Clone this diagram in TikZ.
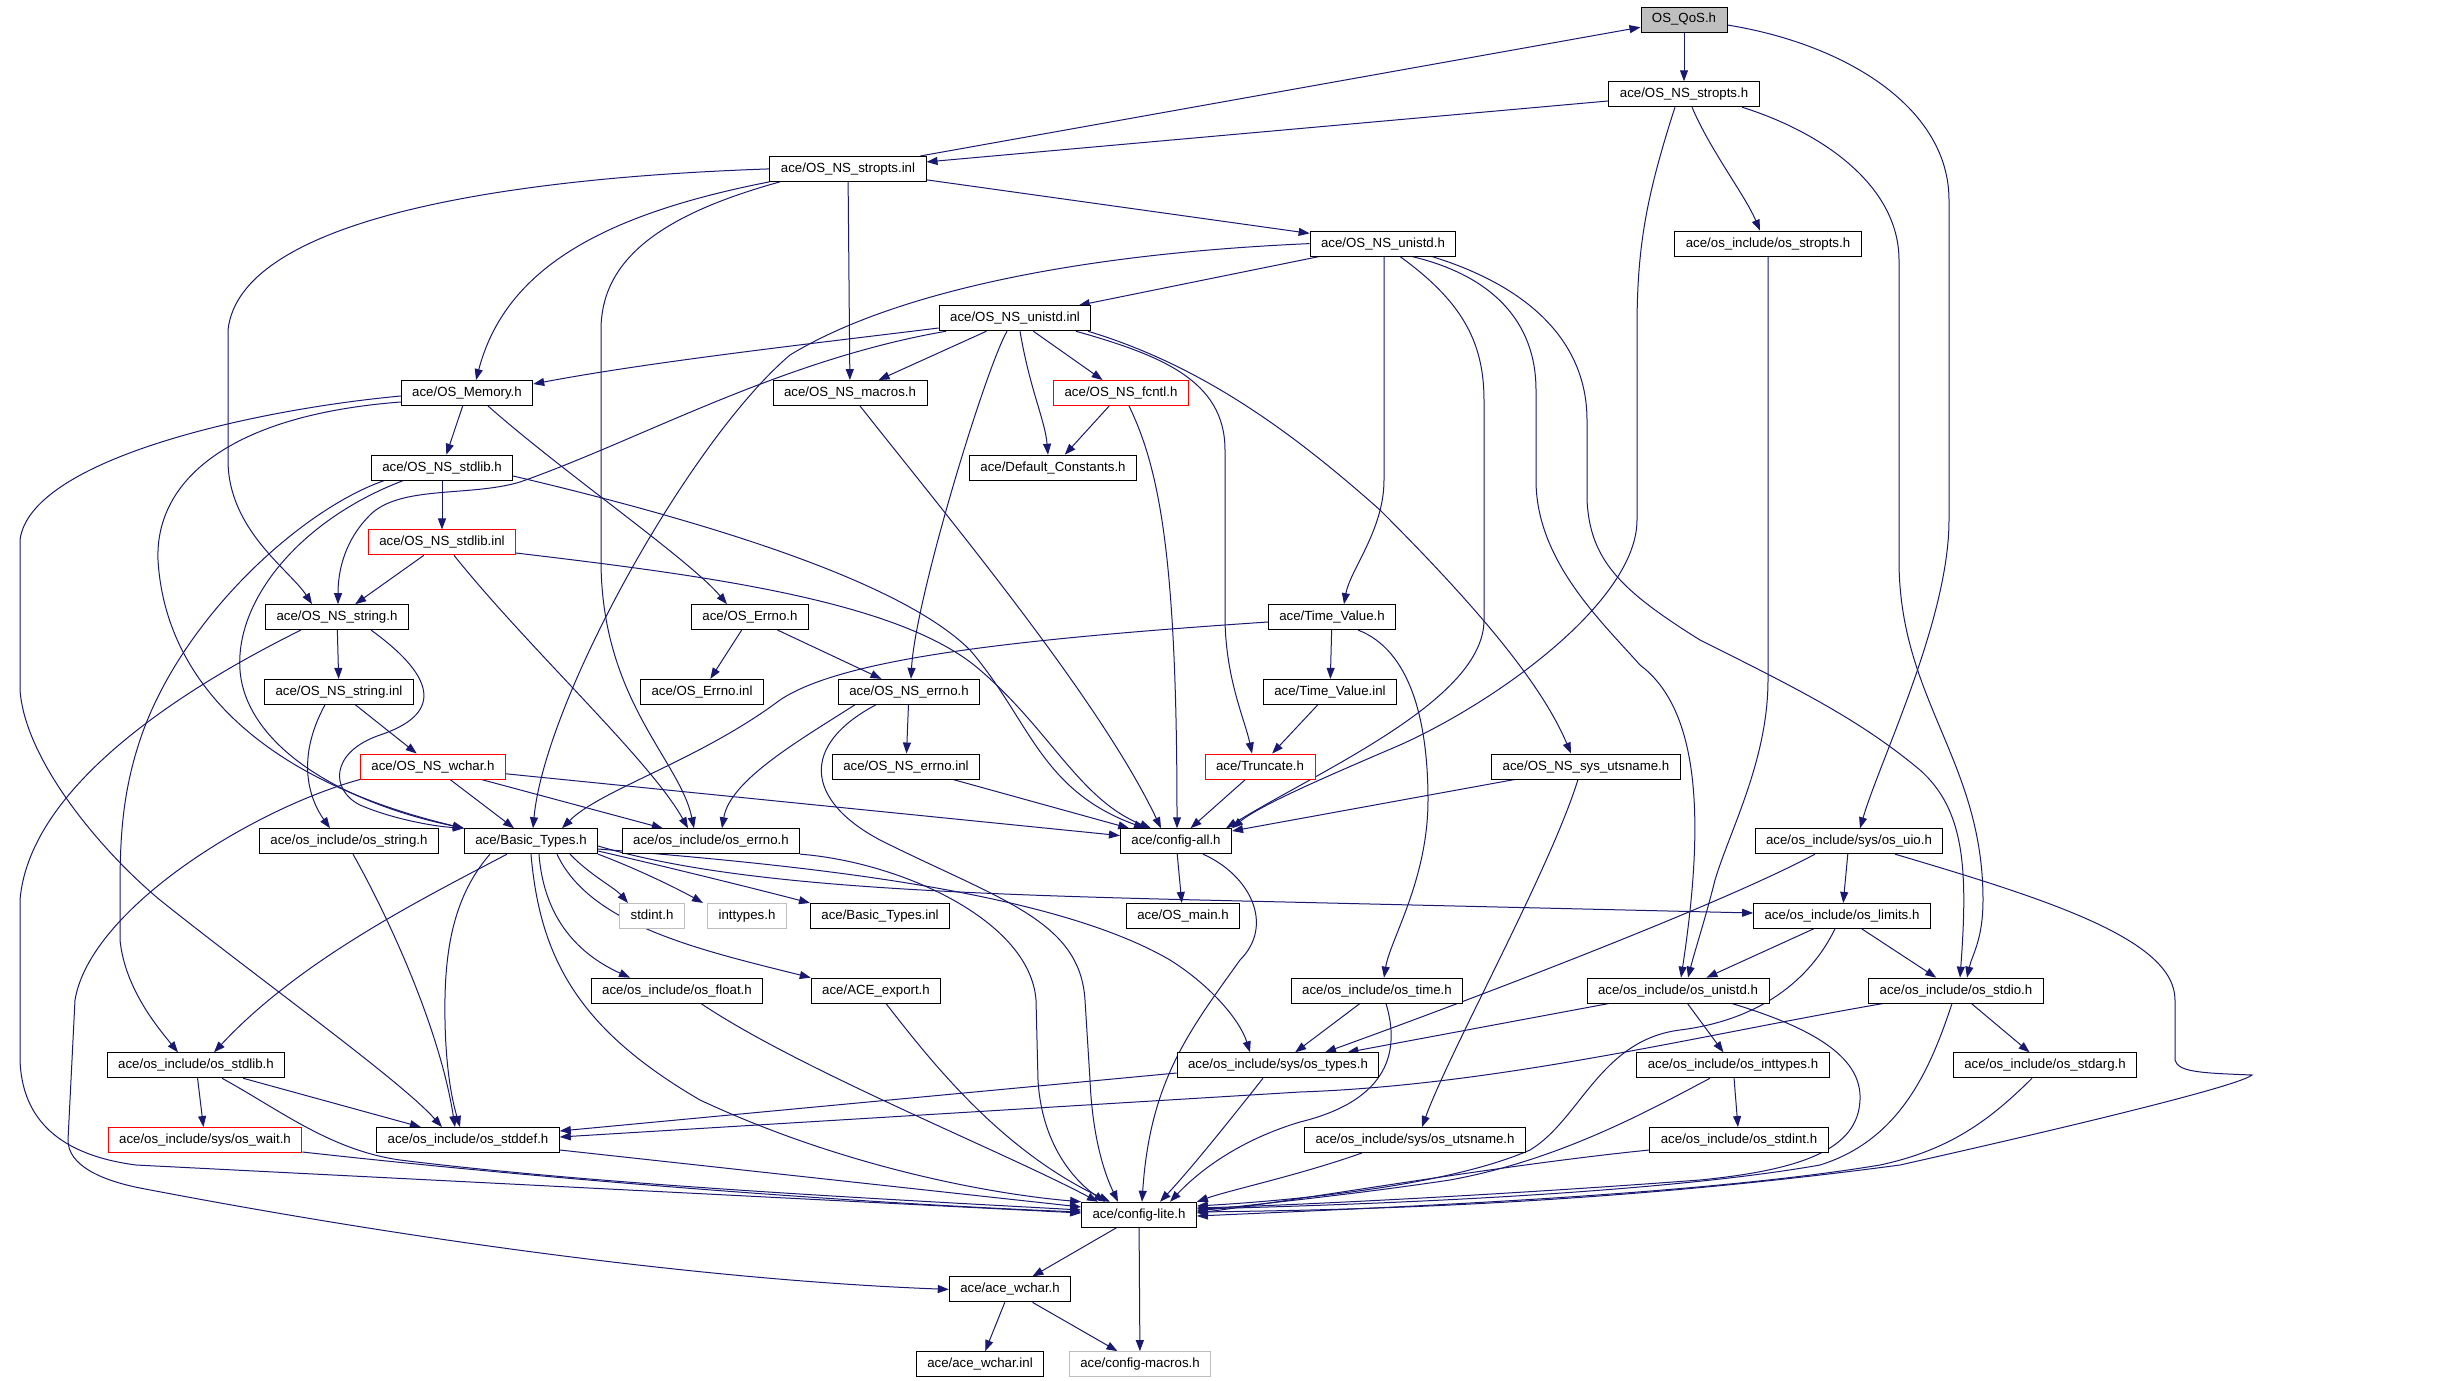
\documentclass[tikz,border=0pt]{standalone}
\usepackage{fontspec}
\setmainfont{Liberation Sans}[Ligatures=NoCommon]
\usetikzlibrary{arrows.meta}
\definecolor{edgecol}{HTML}{191970}
\definecolor{graybox}{HTML}{BFBFBF}
\pgfdeclarelayer{bg}
\pgfdeclarelayer{paper}
\pgfsetlayers{paper,bg,main}
\begin{document}
\begin{tikzpicture}[x=0.5pt,y=-0.5pt,
  nbox/.style={draw=black, line width=0.45pt, fill=white, inner xsep=5.5pt, inner ysep=0pt,
    minimum height=12.5pt, font=\fontsize{6.63}{8}\selectfont, text height=4.9pt, text depth=1.4pt},
  redbox/.style={nbox, draw=red},
  greybox/.style={nbox, draw=graybox},
  dep/.style={draw=edgecol, line width=0.5pt, -{Triangle[length=5.5pt,width=4pt]}}]
\begin{pgfonlayer}{paper}
\fill[white] (0,0) rectangle (2449,1381);
\end{pgfonlayer}
\useasboundingbox (0,0) rectangle (2449,1381);
% nodes
\node[nbox, fill=graybox] (qos) at (1684,19.5) {OS\_QoS.h};
\node[nbox] (stropts_h) at (1684,94.2) {ace/OS\_NS\_stropts.h};
\node[nbox] (stropts_inl) at (848,168.9) {ace/OS\_NS\_stropts.inl};
\node[nbox] (unistd_h) at (1383,243.6) {ace/OS\_NS\_unistd.h};
\node[nbox] (os_stropts) at (1768,243.6) {ace/os\_include/os\_stropts.h};
\node[nbox] (unistd_inl) at (1015,318.3) {ace/OS\_NS\_unistd.inl};
\node[nbox] (memory) at (467,393) {ace/OS\_Memory.h};
\node[nbox] (macros) at (850,393) {ace/OS\_NS\_macros.h};
\node[redbox] (fcntl) at (1121,393) {ace/OS\_NS\_fcntl.h};
\node[nbox] (default) at (1053,467.7) {ace/Default\_Constants.h};
\node[nbox] (stdlib_h) at (442,467.7) {ace/OS\_NS\_stdlib.h};
\node[redbox] (stdlib_inl) at (442,542.4) {ace/OS\_NS\_stdlib.inl};
\node[nbox] (string_h) at (337,617.1) {ace/OS\_NS\_string.h};
\node[nbox] (errno_h) at (750,617.1) {ace/OS\_Errno.h};
\node[nbox] (timev_h) at (1332,617.1) {ace/Time\_Value.h};
\node[nbox] (string_inl) at (339,691.8) {ace/OS\_NS\_string.inl};
\node[nbox] (errno_inl) at (702,691.8) {ace/OS\_Errno.inl};
\node[nbox] (nserrno_h) at (909,691.8) {ace/OS\_NS\_errno.h};
\node[nbox] (timev_inl) at (1330,691.8) {ace/Time\_Value.inl};
\node[redbox] (wchar_h) at (433,766.5) {ace/OS\_NS\_wchar.h};
\node[nbox] (nserrno_inl) at (906,766.5) {ace/OS\_NS\_errno.inl};
\node[redbox] (truncate) at (1260,766.5) {ace/Truncate.h};
\node[nbox] (utsname_h) at (1586,766.5) {ace/OS\_NS\_sys\_utsname.h};
\node[nbox] (os_string) at (349,841.2) {ace/os\_include/os\_string.h};
\node[nbox] (basic) at (531,841.2) {ace/Basic\_Types.h};
\node[nbox] (os_errno) at (711,841.2) {ace/os\_include/os\_errno.h};
\node[nbox] (config_all) at (1176,841.2) {ace/config-all.h};
\node[nbox] (os_uio) at (1849,841.2) {ace/os\_include/sys/os\_uio.h};
\node[greybox] (stdint) at (652,915.9) {stdint.h};
\node[greybox] (inttypes) at (747,915.9) {inttypes.h};
\node[nbox] (basic_inl) at (880,915.9) {ace/Basic\_Types.inl};
\node[nbox] (os_main) at (1183,915.9) {ace/OS\_main.h};
\node[nbox] (os_limits) at (1842,915.9) {ace/os\_include/os\_limits.h};
\node[nbox] (os_float) at (677,990.6) {ace/os\_include/os\_float.h};
\node[nbox] (ace_export) at (876,990.6) {ace/ACE\_export.h};
\node[nbox] (os_time) at (1377,990.6) {ace/os\_include/os\_time.h};
\node[nbox] (os_unistd) at (1678,990.6) {ace/os\_include/os\_unistd.h};
\node[nbox] (os_stdio) at (1956,990.6) {ace/os\_include/os\_stdio.h};
\node[nbox] (os_stdlib) at (196,1065.3) {ace/os\_include/os\_stdlib.h};
\node[nbox] (os_types) at (1278,1065.3) {ace/os\_include/sys/os\_types.h};
\node[nbox] (os_inttypes) at (1733,1065.3) {ace/os\_include/os\_inttypes.h};
\node[nbox] (os_stdarg) at (2045,1065.3) {ace/os\_include/os\_stdarg.h};
\node[redbox] (os_wait) at (205,1140) {ace/os\_include/sys/os\_wait.h};
\node[nbox] (os_stddef) at (468,1140) {ace/os\_include/os\_stddef.h};
\node[nbox] (os_utsname) at (1415,1140) {ace/os\_include/sys/os\_utsname.h};
\node[nbox] (os_stdint) at (1739,1140) {ace/os\_include/os\_stdint.h};
\node[nbox] (config_lite) at (1139,1214.7) {ace/config-lite.h};
\node[nbox] (ace_wchar_h) at (1010,1289.4) {ace/ace\_wchar.h};
\node[nbox] (ace_wchar_inl) at (980,1364.1) {ace/ace\_wchar.inl};
\node[greybox] (config_macros) at (1140,1364.1) {ace/config-macros.h};
% edges
\begin{pgfonlayer}{bg}
\draw[dep] (qos) -- (stropts_h);
\draw[dep] (stropts_inl) -- (qos);
\draw[dep] (stropts_h) -- (stropts_inl);
\draw[dep] (qos.east |- 0,25) .. controls (1850,45) and (1949,110) .. (1949,200) -- (1949,520) .. controls (1949,620) and (1880,760) .. (os_uio.north -| 1860,0);
\draw[dep] (stropts_h.south -| 1692,0) .. controls (1710,150) and (1745,195) .. (os_stropts.north -| 1760,0);
\draw[dep] (stropts_h.south -| 1675,0) .. controls (1645,200) and (1637,250) .. (1637,330) -- (1637,520) .. controls (1637,600) and (1500,700) .. (1400,745) .. controls (1330,775) and (1260,805) .. (config_all.north east);
\draw[dep] (stropts_h.south -| 1742,0) .. controls (1830,135) and (1899,190) .. (1899,260) -- (1899,560) .. controls (1899,700) and (1983,760) .. (1983,900) .. controls (1983,940) and (1972,955) .. (os_stdio.north -| 1967,0);
\draw[dep] (unistd_h.south -| 1412,0) .. controls (1490,275) and (1536,320) .. (1536,390) -- (1536,480) .. controls (1536,560) and (1600,620) .. (1640,665) .. controls (1700,710) and (1705,820) .. (os_unistd.north -| 1681,0);
\draw[dep] (unistd_h.south -| 1432,0) .. controls (1540,290) and (1587,350) .. (1587,420) -- (1587,500) .. controls (1590,560) and (1620,590) .. (1700,640) .. controls (1800,690) and (1860,720) .. (1920,770) .. controls (1965,810) and (1968,870) .. (os_stdio.north -| 1960,0);
\draw[dep] (os_stropts.south) -- (1768,680) .. controls (1768,760) and (1730,830) .. (1715,880) .. controls (1705,920) and (1695,950) .. (os_unistd.north -| 1688,0);
\draw[dep] (stropts_inl) -- (unistd_h);
\draw[dep] (stropts_inl.south west) .. controls (600,215) and (505,270) .. (memory.north -| 476,0);
\draw[dep] (stropts_inl) -- (macros);
\draw[dep] (stropts_inl.west) .. controls (500,178) and (240,220) .. (228,330) -- (228,460) .. controls (228,530) and (290,570) .. (string_h.north -| 312,0);
\draw[dep] (stropts_inl.south -| 780,0) .. controls (660,215) and (601,260) .. (601,330) -- (601,560) .. controls (601,700) and (680,760) .. (os_errno.north -| 694,0);
\draw[dep] (unistd_h) -- (unistd_inl);
\draw[dep] (unistd_h.west) .. controls (1050,255) and (880,300) .. (790,355) .. controls (690,440) and (545,700) .. (basic.north -| 533,0);
\draw[dep] (unistd_h.south -| 1384,0) -- (1384,480) .. controls (1384,530) and (1350,570) .. (timev_h.north -| 1344,0);
\draw[dep] (unistd_h.south -| 1400,0) .. controls (1460,300) and (1484,340) .. (1484,400) -- (1484,620) .. controls (1484,700) and (1320,770) .. (config_all.north -| 1226,0);
% unistd_inl
\draw[dep] (unistd_inl.west |- 0,328) .. controls (800,345) and (650,362) .. (memory.east |- 0,384);
\draw[dep] (unistd_inl.south -| 946,0) .. controls (780,360) and (640,440) .. (520,482) .. controls (470,497) and (400,485) .. (370,515) .. controls (345,540) and (338,570) .. (string_h.north -| 338,0);
\draw[dep] (unistd_inl) -- (macros);
\draw[dep] (unistd_inl.south -| 1007,0) .. controls (985,370) and (915,600) .. (nserrno_h.north -| 911,0);
\draw[dep] (unistd_inl.south -| 1020,0) .. controls (1030,390) and (1045,420) .. (default.north -| 1048,0);
\draw[dep] (unistd_inl) -- (fcntl);
\draw[dep] (unistd_inl.south -| 1076,0) .. controls (1160,355) and (1225,380) .. (1225,450) -- (1225,620) .. controls (1226,680) and (1245,720) .. (truncate.north -| 1252,0);
\draw[dep] (unistd_inl.south -| 1088,0) .. controls (1200,365) and (1290,430) .. (1380,510) .. controls (1470,600) and (1540,680) .. (utsname_h.north -| 1571,0);
% memory
\draw[dep] (memory) -- (stdlib_h);
\draw[dep] (memory.south -| 488,0) .. controls (560,470) and (690,560) .. (errno_h.north -| 727,0);
\draw[dep] (memory.west |- 0,402) .. controls (230,415) and (155,480) .. (158,560) .. controls (165,680) and (260,780) .. (basic.north west);
\draw[dep] (memory.west |- 0,396) .. controls (250,410) and (30,460) .. (20,540) -- (20,690) .. controls (25,760) and (100,850) .. (160,900) .. controls (260,980) and (400,1080) .. (os_stddef.north -| 442,0);
% stdlib_h
\draw[dep] (stdlib_h) -- (stdlib_inl);
\draw[dep] (stdlib_h.east |- 0,476) .. controls (700,520) and (900,580) .. (970,650) .. controls (1030,720) and (1040,790) .. (config_all.north -| 1145,0);
\draw[dep] (stdlib_h.south -| 384,0) .. controls (300,510) and (180,620) .. (140,740) .. controls (120,800) and (120,850) .. (120,900) -- (120,940) .. controls (125,990) and (160,1030) .. (os_stdlib.north -| 178,0);
\draw[dep] (stdlib_h.south -| 403,0) .. controls (300,520) and (235,600) .. (240,670) .. controls (245,740) and (330,800) .. (basic.north west);
% stdlib_inl
\draw[dep] (stdlib_inl) -- (string_h);
\draw[dep] (stdlib_inl.south -| 454,0) .. controls (530,650) and (650,760) .. (os_errno.north -| 688,0);
\draw[dep] (stdlib_inl.east |- 0,553) .. controls (700,575) and (900,600) .. (980,670) .. controls (1050,730) and (1080,800) .. (config_all.north -| 1151,0);
% macros, fcntl
\draw[dep] (macros.south -| 860,0) .. controls (950,520) and (1100,700) .. (config_all.north -| 1161,0);
\draw[dep] (fcntl) -- (default);
\draw[dep] (fcntl.south -| 1129,0) .. controls (1160,470) and (1177,560) .. (config_all.north -| 1177,0);
% string_h
\draw[dep] (string_h) -- (string_inl);
\draw[dep] (string_h.south -| 371,0) .. controls (440,680) and (440,715) .. (380,735) .. controls (330,752) and (330,790) .. (360,805) .. controls (390,818) and (430,826) .. (basic.north west);
\draw[dep] (string_h.south -| 301,0) .. controls (200,680) and (30,780) .. (20,900) -- (20,1060) .. controls (22,1120) and (60,1155) .. (136,1165) -- (config_lite.west |- 0,1213);
% string_inl
\draw[dep] (string_inl) -- (wchar_h);
\draw[dep] (string_inl.south -| 325,0) .. controls (295,760) and (310,800) .. (os_string.north -| 330,0);
% wchar_h
\draw[dep] (wchar_h) -- (basic);
\draw[dep] (wchar_h) -- (os_errno);
\draw[dep] (wchar_h) -- (config_all);
\draw[dep] (wchar_h.south west) .. controls (250,810) and (90,910) .. (75,1000) -- (68,1140) .. controls (68,1165) and (100,1180) .. (140,1188) .. controls (400,1238) and (700,1280) .. (ace_wchar_h.west);
% OS_Errno, Time_Value
\draw[dep] (errno_h) -- (errno_inl);
\draw[dep] (errno_h) -- (nserrno_h);
\draw[dep] (timev_h) -- (timev_inl);
\draw[dep] (timev_h.west |- 0,622) .. controls (1000,640) and (840,660) .. (780,700) .. controls (700,760) and (600,790) .. (basic.north -| 562,0);
\draw[dep] (timev_h.south -| 1358,0) .. controls (1410,650) and (1428,720) .. (1428,800) .. controls (1428,880) and (1390,940) .. (os_time.north -| 1384,0);
\draw[dep] (timev_inl) -- (truncate);
\draw[dep] (truncate) -- (config_all);
% OS_NS_errno
\draw[dep] (nserrno_h) -- (nserrno_inl);
\draw[dep] (nserrno_h.south -| 855,0) .. controls (800,740) and (730,780) .. (os_errno.north -| 722,0);
\draw[dep] (nserrno_h.south -| 876,0) .. controls (800,745) and (805,800) .. (880,840) .. controls (1000,900) and (1080,920) .. (1085,1000) -- (1090,1080) .. controls (1093,1150) and (1110,1185) .. (config_lite.north -| 1118,0);
\draw[dep] (nserrno_inl) -- (config_all);
% sys_utsname
\draw[dep] (utsname_h) -- (config_all);
\draw[dep] (utsname_h.south -| 1578,0) .. controls (1550,870) and (1450,1050) .. (os_utsname.north -| 1422,0);
% os_string, os_errno, config_all
\draw[dep] (os_string.south -| 353,0) .. controls (390,920) and (440,1030) .. (os_stddef.north -| 455,0);
\draw[dep] (os_errno.south east) .. controls (900,862) and (1030,920) .. (1036,1000) -- (1038,1080) .. controls (1042,1150) and (1080,1185) .. (config_lite.north -| 1105,0);
\draw[dep] (config_all) -- (os_main);
\draw[dep] (config_all.south -| 1203,0) .. controls (1250,875) and (1275,925) .. (1240,960) .. controls (1190,1030) and (1150,1080) .. (config_lite.north -| 1142,0);
% Basic_Types
\draw[dep] (basic.south -| 490,0) .. controls (450,900) and (444,960) .. (445,1020) .. controls (446,1080) and (455,1110) .. (os_stddef.north -| 460,0);
\draw[dep] (basic.south -| 507,0) .. controls (420,900) and (300,960) .. (os_stdlib.north -| 214,0);
\draw[dep] (basic.south -| 531,0) .. controls (540,960) and (580,1030) .. (700,1100) .. controls (850,1170) and (1000,1195) .. (config_lite.north west);
\draw[dep] (basic.south -| 539,0) .. controls (544,920) and (580,955) .. (os_float.north -| 630,0);
\draw[dep] (basic.south -| 557,0) .. controls (590,925) and (700,950) .. (ace_export.north west);
\draw[dep] (basic.south -| 570,0) .. controls (590,875) and (615,888) .. (stdint.north -| 628,0);
\draw[dep] (basic.south east) .. controls (640,870) and (680,890) .. (inttypes.north -| 703,0);
\draw[dep] (basic.east |- 0,851) .. controls (680,870) and (760,890) .. (basic_inl.north west);
\draw[dep] (basic.east |- 0,846) .. controls (720,882) and (900,893) .. (1200,900) -- (os_limits.west |- 0,913);
\draw[dep] (basic.east |- 0,849) .. controls (800,865) and (1050,890) .. (1170,960) .. controls (1210,985) and (1240,1020) .. (os_types.north -| 1250,0);
% os_float, ACE_export
\draw[dep] (os_float.south -| 701,0) .. controls (800,1070) and (1000,1150) .. (config_lite.north -| 1098,0);
\draw[dep] (ace_export.south -| 886,0) .. controls (930,1060) and (1000,1150) .. (config_lite.north -| 1110,0);
% os_time, os_types
\draw[dep] (os_time) -- (os_types);
\draw[dep] (os_time.south -| 1386,0) .. controls (1400,1050) and (1390,1100) .. (1300,1122) .. controls (1240,1140) and (1200,1170) .. (config_lite.north -| 1170,0);
\draw[dep] (os_types.west |- 0,1073) -- (os_stddef.east |- 0,1131);
\draw[dep] (os_types.south -| 1263,0) .. controls (1230,1120) and (1190,1170) .. (config_lite.north -| 1160,0);
% os_uio
\draw[dep] (os_uio) -- (os_limits);
\draw[dep] (os_uio.south -| 1815,0) .. controls (1720,905) and (1470,1000) .. (os_types.north -| 1325,0);
\draw[dep] (os_uio.south -| 1895,0) .. controls (2050,900) and (2175,940) .. (2175,1000) -- (2175,1060) .. controls (2178,1072) and (2200,1073) .. (2252,1075) .. controls (2240,1085) and (2100,1120) .. (1900,1165) .. controls (1600,1205) and (1350,1210) .. (config_lite.east |- 0,1212);
% os_limits
\draw[dep] (os_limits) -- (os_unistd);
\draw[dep] (os_limits) -- (os_stdio);
\draw[dep] (os_limits.south -| 1835,0) .. controls (1810,980) and (1760,1020) .. (1680,1030) .. controls (1600,1040) and (1580,1120) .. (1530,1150) .. controls (1450,1185) and (1300,1200) .. (config_lite.east |- 0,1206);
% os_unistd
\draw[dep] (os_unistd) -- (os_types);
\draw[dep] (os_unistd) -- (os_inttypes);
\draw[dep] (os_unistd.south -| 1732,0) .. controls (1820,1030) and (1862,1060) .. (1860,1100) .. controls (1858,1150) and (1800,1170) .. (1700,1180) .. controls (1500,1195) and (1300,1205) .. (config_lite.east |- 0,1208);
% os_stdio
\draw[dep] (os_stdio) -- (os_stdarg);
\draw[dep] (os_stdio.south -| 1883,0) .. controls (1700,1035) and (1500,1085) .. (1300,1092) -- (os_stddef.east |- 0,1137);
\draw[dep] (os_stdio.south -| 1952,0) .. controls (1930,1070) and (1900,1140) .. (1820,1165) .. controls (1650,1195) and (1350,1205) .. (config_lite.east |- 0,1209);
% os_stdlib, os_wait, os_stddef
\draw[dep] (os_stdlib) -- (os_wait);
\draw[dep] (os_stdlib) -- (os_stddef);
\draw[dep] (os_stdlib.south -| 222,0) .. controls (280,1110) and (330,1150) .. (400,1160) .. controls (600,1185) and (900,1200) .. (config_lite.west |- 0,1210);
\draw[dep] (os_wait.east |- 0,1152) .. controls (600,1185) and (900,1205) .. (config_lite.west |- 0,1212);
\draw[dep] (os_stddef.east |- 0,1150) -- (config_lite.west |- 0,1207);
% os_inttypes, os_stdint, os_stdarg, os_utsname
\draw[dep] (os_inttypes) -- (os_stdint);
\draw[dep] (os_inttypes.south -| 1710,0) .. controls (1650,1110) and (1560,1160) .. (1450,1180) .. controls (1350,1195) and (1250,1205) .. (config_lite.east |- 0,1211);
\draw[dep] (os_stdint.west |- 0,1150) .. controls (1500,1165) and (1300,1200) .. (config_lite.east |- 0,1213);
\draw[dep] (os_stdarg.south -| 2032,0) .. controls (1990,1120) and (1950,1150) .. (1880,1165) .. controls (1700,1195) and (1400,1207) .. (config_lite.east |- 0,1216);
\draw[dep] (os_utsname.south -| 1362,0) .. controls (1300,1175) and (1230,1190) .. (config_lite.north east);
% config_lite, ace_wchar
\draw[dep] (config_lite) -- (ace_wchar_h);
\draw[dep] (config_lite) -- (config_macros);
\draw[dep] (ace_wchar_h) -- (ace_wchar_inl);
\draw[dep] (ace_wchar_h) -- (config_macros);
\end{pgfonlayer}
\end{tikzpicture}
\end{document}
